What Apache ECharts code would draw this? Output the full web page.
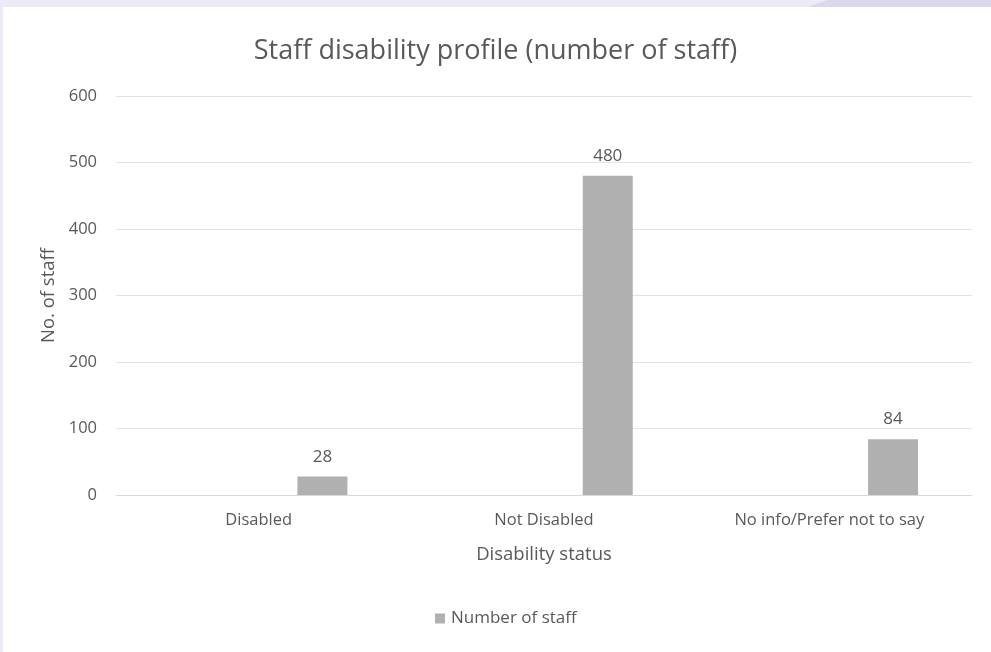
<!DOCTYPE html>
<html><head><meta charset="utf-8">
<script src="https://cdn.jsdelivr.net/npm/echarts@6/dist/echarts.min.js"></script>
<style>html,body{margin:0;padding:0;background:#eceaf4;}#c{width:991px;height:652px;}</style>
</head><body><div id="c"></div>
<script>
const categories = ['Disabled', 'Not Disabled', 'No info/Prefer not to say'];
const staffCounts = [28, 480, 84];
const yTicks = [0, 100, 200, 300, 400, 500, 600];

const chart = echarts.init(document.getElementById('c'));
const txt = '#595959';
const font = 'Open Sans';
chart.setOption({
  backgroundColor: '#eceaf4',
  animation: false,
  graphic: [
    { type: 'rect', shape: { x: 3, y: 7, width: 988, height: 645 }, style: { fill: '#ffffff' }, z: -10 },
    { type: 'polygon', shape: { points: [[827, 0], [991, 0], [991, 7], [808, 7]] }, style: { fill: '#dcd8ec' }, z: -10 }
  ],
  title: {
    text: 'Staff disability profile (number of staff)',
    left: 'center', top: 33,
    textStyle: { fontFamily: font, fontSize: 27, fontWeight: 'normal', color: txt }
  },
  legend: {
    data: ['Number of staff'],
    bottom: 20, left: 430,
    itemWidth: 10, itemHeight: 10, itemGap: 10,
    icon: 'rect',
    textStyle: { fontFamily: font, fontSize: 17, color: txt, padding: [0, 0, 0, 1] }
  },
  grid: { left: 116, right: 19, top: 96, bottom: 157 },
  xAxis: {
    type: 'category', data: categories,
    name: 'Disability status', nameLocation: 'middle', nameGap: 50,
    nameTextStyle: { fontFamily: font, fontSize: 18.5, color: txt },
    axisLine: { lineStyle: { color: '#d9d9d9' } },
    axisTick: { show: false },
    axisLabel: { fontFamily: font, fontSize: 16.5, color: txt, margin: 17 }
  },
  yAxis: {
    type: 'value', min: yTicks[0], max: yTicks[yTicks.length - 1], interval: 100,
    name: 'No. of staff', nameLocation: 'middle', nameGap: 57, nameRotate: 90,
    nameTextStyle: { fontFamily: font, fontSize: 18.5, color: txt },
    axisLine: { show: false }, axisTick: { show: false },
    axisLabel: { fontFamily: font, fontSize: 16.5, color: txt, margin: 19 },
    splitLine: { lineStyle: { color: '#e3e3e3' } }
  },
  series: [
    { name: 'spacer', type: 'bar', data: [], barWidth: 50, barGap: '155%' },
    {
      name: 'Number of staff', type: 'bar', data: staffCounts, barWidth: 50, barGap: '155%',
      itemStyle: { color: '#b0b0b0' },
      label: { show: true, position: 'top', distance: 11, fontFamily: font, fontSize: 17, color: txt }
    }
  ]
});
</script></body></html>
